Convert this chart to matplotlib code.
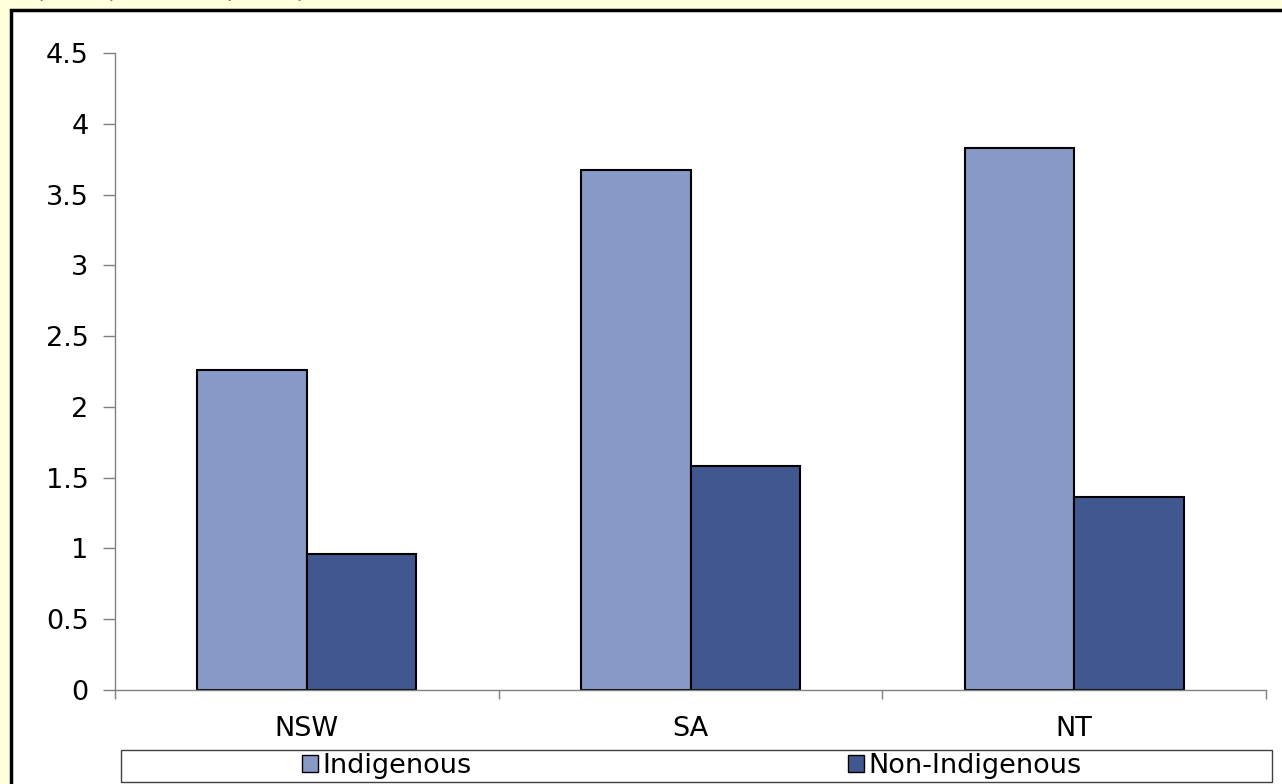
import matplotlib
matplotlib.use("Agg")
from matplotlib import pyplot as plt
from matplotlib.patches import Rectangle
import numpy as np

# data
states = ['NSW', 'SA', 'NT']
indigenous = [2.26, 3.67, 3.83]
non_indigenous = [0.96, 1.58, 1.36]
y_ticks = [0, 0.5, 1, 1.5, 2, 2.5, 3, 3.5, 4, 4.5]
y_tick_labels = ['0', '0.5', '1', '1.5', '2', '2.5', '3', '3.5', '4', '4.5']

plt.rcParams['font.family'] = ['DejaVu Sans']
W, H = 1282, 784
fs = 19.5
fig = plt.figure(figsize=(W / 100, H / 100), dpi=100, facecolor='#FFFFDC')

# white chart area with heavy black border (runs off the right/bottom edge)
fig.patches.append(Rectangle((11 / W, -0.05), 1.1, 1 - 10 / H + 0.05,
                             transform=fig.transFigure, facecolor='white',
                             edgecolor='black', linewidth=2.5, zorder=-10))

# clipped title remnant at the very top
fig.text(35 / W, 1 + 3 / H, '(1999) and NT (1997)', fontsize=18,
         va='baseline', ha='left', color='black', zorder=-5)

ax = fig.add_axes([115 / W, (H - 690) / H, (1266 - 115) / W, (690 - 53) / H])
ax.set_zorder(2)
ax.patch.set_alpha(0)

x = np.arange(len(states)) + 0.5
w = 1 / 3.5
ax.bar(x - w / 2, indigenous, w, color='#8799C7', edgecolor='black',
       linewidth=1.5, label='Indigenous')
ax.bar(x + w / 2, non_indigenous, w, color='#40588F', edgecolor='black',
       linewidth=1.5, label='Non-Indigenous')

ax.set_xlim(0, len(states))
ax.set_ylim(0, 4.5)
ax.set_yticks(y_ticks)
ax.set_yticklabels(y_tick_labels, fontsize=fs)
ax.tick_params(axis='y', length=8.5, width=1, color='#808080', pad=10.5)

ax.set_xticks(np.arange(len(states) + 1))
ax.set_xticklabels([])
ax.tick_params(axis='x', which='major', length=6.5, width=1, color='#808080')
ax.set_xticks(x, minor=True)
ax.set_xticklabels(states, minor=True, fontsize=fs)
ax.tick_params(axis='x', which='minor', length=0, pad=19)

for s in ['top', 'right']:
    ax.spines[s].set_visible(False)
for s in ['left', 'bottom']:
    ax.spines[s].set_color('#808080')
    ax.spines[s].set_linewidth(1)

# legend box along the bottom
fig.patches.append(Rectangle((121 / W, (H - 782) / H), (1272 - 121) / W, 32 / H,
                             transform=fig.transFigure, facecolor='white',
                             edgecolor='#404040', linewidth=1, zorder=-1))
leg = fig.legend(loc='center', bbox_to_anchor=(692 / W, (H - 766) / H),
                 ncol=2, frameon=False, fontsize=fs, handlelength=0.6,
                 handleheight=0.6, handletextpad=0.15, columnspacing=13.9,
                 borderpad=0)
for h in leg.legend_handles:
    h.set_linewidth(1)

fig.savefig('out.png', dpi=100, facecolor=fig.get_facecolor())
